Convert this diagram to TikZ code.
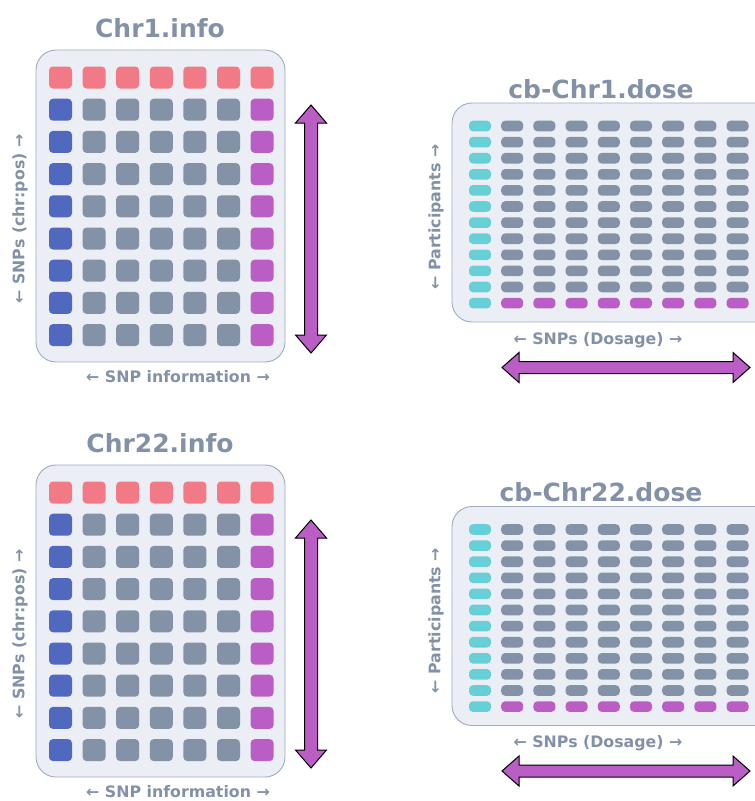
\documentclass[tikz,border=0pt]{standalone}
\usepackage{fontspec}
\setmainfont{DejaVu Sans}
\definecolor{pinkc}{HTML}{F27A86}
\definecolor{bluec}{HTML}{5068BE}
\definecolor{grayc}{HTML}{8392A7}
\definecolor{purpc}{HTML}{BA5EC6}
\definecolor{cyanc}{HTML}{66D0D6}
\definecolor{panelf}{HTML}{EBEEF4}
\definecolor{paneld}{HTML}{9DAAC0}
\definecolor{textc}{HTML}{8391A8}
\begin{document}
\begin{tikzpicture}[x=1pt,y=-1pt,
  panel/.style={fill=panelf,draw=paneld,line width=0.9pt,rounded corners=20pt},
  ttl/.style={text=textc,font=\bfseries\fontsize{25}{28}\selectfont,inner sep=0pt},
  lbl/.style={text=textc,font=\bfseries\fontsize{15.8}{18}\selectfont,inner sep=0pt},
  darrow/.style={fill=purpc,draw=black,line width=1pt,line join=miter}]
\useasboundingbox (0,0) rectangle (755,801);
\clip (0,0) rectangle (755,801);
% ---------- info panels ----------
\foreach \oy/\name in {0/Chr1, 415/Chr22}{
  \begin{scope}[yshift=-\oy pt]
  \draw[panel] (36,50) rectangle (285,362);
  \foreach \i in {0,...,6}{
    \foreach \j in {0,...,8}{
      \pgfmathsetmacro{\cx}{60.5+33.6*\i}
      \pgfmathsetmacro{\cy}{77.5+32.2*\j}
      \ifnum\j=0 \def\cc{pinkc}\else
        \ifnum\i=0 \def\cc{bluec}\else
          \ifnum\i=6 \def\cc{purpc}\else \def\cc{grayc}\fi\fi\fi
      \fill[\cc,rounded corners=4pt] (\cx-11.5,\cy-11) rectangle (\cx+11.5,\cy+11);
    }
  }
  \node[ttl] (title\name) at (160,28) {\name.info};
  \node[lbl,rotate=90] (snps\name) at (20,219) {← SNPs (chr:pos) →};
  \node[lbl] (info\name) at (178,377) {← SNP information →};
  \draw[darrow] (311,105) -- (326.5,123) -- (317.5,123) -- (317.5,335) -- (326.5,335)
     -- (311,353) -- (295.5,335) -- (304.5,335) -- (304.5,123) -- (295.5,123) -- cycle;
  \end{scope}
}
% ---------- dose panels ----------
\foreach \oy/\name in {0/Chr1, 403.5/Chr22}{
  \begin{scope}[yshift=-\oy pt]
  \draw[panel] (452,103) rectangle (790,322);
  \foreach \i in {0,...,8}{
    \foreach \j in {0,...,11}{
      \pgfmathsetmacro{\cx}{480+32.2*\i}
      \pgfmathsetmacro{\cy}{126+16.1*\j}
      \ifnum\i=0 \def\cc{cyanc}\else
        \ifnum\j=11 \def\cc{purpc}\else \def\cc{grayc}\fi\fi
      \fill[\cc,rounded corners=4pt] (\cx-11,\cy-5.3) rectangle (\cx+11,\cy+5.3);
    }
  }
  \node[ttl] (dtitle\name) at (601,89) {cb-\name.dose};
  \node[lbl,rotate=90] (part\name) at (436,217) {← Participants →};
  \node[lbl] (dos\name) at (598,340) {← SNPs (Dosage) →};
  \draw[darrow] (502,367.5) -- (519,352.5) -- (519,361.5) -- (733,361.5) -- (733,352.5)
     -- (750,367.5) -- (733,382.5) -- (733,373.5) -- (519,373.5) -- (519,382.5) -- cycle;
  \end{scope}
}
\end{tikzpicture}
\end{document}
